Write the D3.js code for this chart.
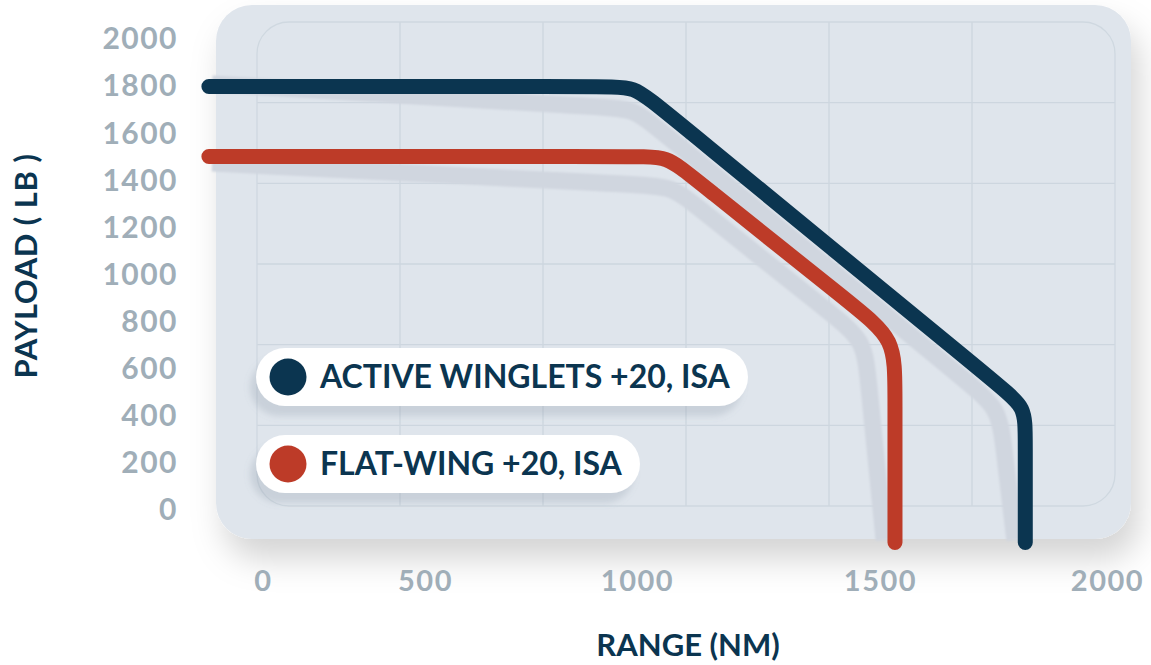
<!DOCTYPE html>
<html><head><meta charset="utf-8">
<script src="https://cdn.jsdelivr.net/npm/d3@7/dist/d3.min.js"></script>
<style>body{margin:0;background:#fff;}svg{display:block;}</style>
</head><body>
<svg id="chart" width="1151" height="665"></svg>
<script>
// ---------- data ----------
const yTicks = [0, 200, 400, 600, 800, 1000, 1200, 1400, 1600, 1800, 2000];
const xTicks = [0, 500, 1000, 1500, 2000];
const seriesNames = ["ACTIVE WINGLETS +20, ISA", "FLAT-WING +20, ISA"];
// main curves (range NM, payload LB) – break points
const activeRange   = [-167, 923, 994, 1043, 1769, 1820, 1820, 1820];
const activePayload = [1794, 1794, 1794, 1713, 514, 433, 306, -142];
const flatRange     = [-167, 1000, 1062, 1110, 1451, 1533, 1533, 1533];
const flatPayload   = [1497, 1497, 1497, 1417, 854, 722, 510, -142];
// faint shadow curves
const activeShadowRange   = [-157, 922, 993, 1042, 1694, 1762, 1773, 1797];
const activeShadowPayload = [1805, 1706, 1699, 1618, 537, 429, 260, -132];
const flatShadowRange     = [-157, 1010, 1072, 1120, 1404, 1468, 1476, 1509];
const flatShadowPayload   = [1469, 1376, 1369, 1290, 822, 716, 546, -132];

// ---------- styles ----------
const NAVY = "#0b3550", RED = "#bd3b28", TICK = "#a0aeb8";
const colors = [NAVY, RED];

const svg = d3.select("#chart");
const defs = svg.append("defs");
const f1 = defs.append("filter").attr("id", "panelShadow")
  .attr("x", "-10%").attr("y", "-10%").attr("width", "125%").attr("height", "135%");
f1.append("feDropShadow").attr("dx", 8).attr("dy", 20).attr("stdDeviation", 16)
  .attr("flood-color", "#000").attr("flood-opacity", 0.17);
const f2 = defs.append("filter").attr("id", "pillShadow")
  .attr("x", "-10%").attr("y", "-30%").attr("width", "120%").attr("height", "170%");
f2.append("feDropShadow").attr("dx", -6).attr("dy", 10).attr("stdDeviation", 3)
  .attr("flood-color", "#7d8a98").attr("flood-opacity", 0.22);
const f3 = defs.append("filter").attr("id", "soft");
f3.append("feGaussianBlur").attr("stdDeviation", 1.2);

// ---------- scales ----------
const x = d3.scaleLinear().domain(xTicks).range([263, 425, 637, 880, 1107]);
const y = d3.scaleLinear().domain([0, 2000]).range([509, 38]);
const gx = d3.scaleLinear().domain([0, 6]).range([257, 1115]);
const gy = d3.scaleLinear().domain([0, 6]).range([22, 506]);

// ---------- panel ----------
svg.append("rect").attr("x", 216).attr("y", 5).attr("width", 915).attr("height", 534)
  .attr("rx", 36).attr("fill", "#dfe5ec").attr("filter", "url(#panelShadow)");

const grid = svg.append("g");
grid.selectAll("line.v").data(d3.range(1, 6)).join("line")
  .attr("x1", d => gx(d)).attr("x2", d => gx(d)).attr("y1", gy(0)).attr("y2", gy(6))
  .attr("stroke", "#cdd6df").attr("stroke-width", 1.3);
grid.selectAll("line.h").data(d3.range(1, 6)).join("line")
  .attr("y1", d => gy(d)).attr("y2", d => gy(d)).attr("x1", gx(0)).attr("x2", gx(6))
  .attr("stroke", "#cdd6df").attr("stroke-width", 1.3);
grid.append("rect").attr("x", gx(0)).attr("y", gy(0))
  .attr("width", gx(6) - gx(0)).attr("height", gy(6) - gy(0))
  .attr("rx", 32).attr("fill", "none").attr("stroke", "#cfd8e0").attr("stroke-width", 1.3);

// ---------- lines ----------
const line = d3.line().x(d => x(d[0])).y(d => y(d[1])).curve(d3.curveBasis);
const zip = (a, b) => a.map((v, i) => [v, b[i]]);
const shadows = [zip(activeShadowRange, activeShadowPayload), zip(flatShadowRange, flatShadowPayload)];
const mains = [zip(activeRange, activePayload), zip(flatRange, flatPayload)];

svg.append("g").selectAll("path").data(shadows).join("path")
  .attr("d", line).attr("fill", "none").attr("stroke", "#d0d6df")
  .attr("stroke-width", 17).attr("stroke-linejoin", "round").attr("filter", "url(#soft)");
svg.append("g").selectAll("path").data(mains).join("path")
  .attr("d", line).attr("fill", "none").attr("stroke", (d, i) => colors[i])
  .attr("stroke-width", 15).attr("stroke-linecap", "round").attr("stroke-linejoin", "round");

// ---------- axes ----------
const yAxis = svg.append("g").attr("transform", "translate(178,0)")
  .call(d3.axisLeft(y).tickValues(yTicks).tickSize(0).tickPadding(0).tickFormat(d3.format("d")));
yAxis.select(".domain").remove();
yAxis.selectAll("text").attr("fill", TICK).attr("font-family", "Lato").attr("font-weight", 700)
  .attr("font-size", 30).attr("letter-spacing", 1.5).attr("dy", "0.36em");

const xAxis = svg.append("g").attr("transform", "translate(0,581)")
  .call(d3.axisBottom(x).tickValues(xTicks).tickSize(0).tickPadding(0).tickFormat(d3.format("d")));
xAxis.select(".domain").remove();
xAxis.selectAll("text").attr("fill", TICK).attr("font-family", "Lato").attr("font-weight", 700)
  .attr("font-size", 29).attr("letter-spacing", 1.5).attr("y", 0).attr("dy", "0.36em");

svg.append("text").attr("transform", "translate(37,266) rotate(-90)")
  .attr("text-anchor", "middle").attr("fill", NAVY).attr("font-family", "Lato")
  .attr("font-weight", 700).attr("font-size", 31).attr("letter-spacing", 0.5).text("PAYLOAD ( LB )");
svg.append("text").attr("x", 688).attr("y", 656)
  .attr("text-anchor", "middle").attr("fill", NAVY).attr("font-family", "Lato")
  .attr("font-weight", 700).attr("font-size", 31).text("RANGE (NM)");

// ---------- legend ----------
const legendW = [492, 384];
const leg = svg.append("g").selectAll("g").data(seriesNames).join("g")
  .attr("transform", (d, i) => `translate(256,${348 + i * 87})`);
leg.append("rect").attr("width", (d, i) => legendW[i]).attr("height", 58).attr("rx", 29)
  .attr("fill", "#fff").attr("filter", "url(#pillShadow)");
leg.append("circle").attr("cx", 32).attr("cy", 29).attr("r", 18.5).attr("fill", (d, i) => colors[i]);
leg.append("text").attr("x", 64).attr("y", 40).attr("fill", NAVY).attr("font-family", "Lato")
  .attr("font-weight", 700).attr("font-size", 32).text(d => d);
</script>
</body></html>
